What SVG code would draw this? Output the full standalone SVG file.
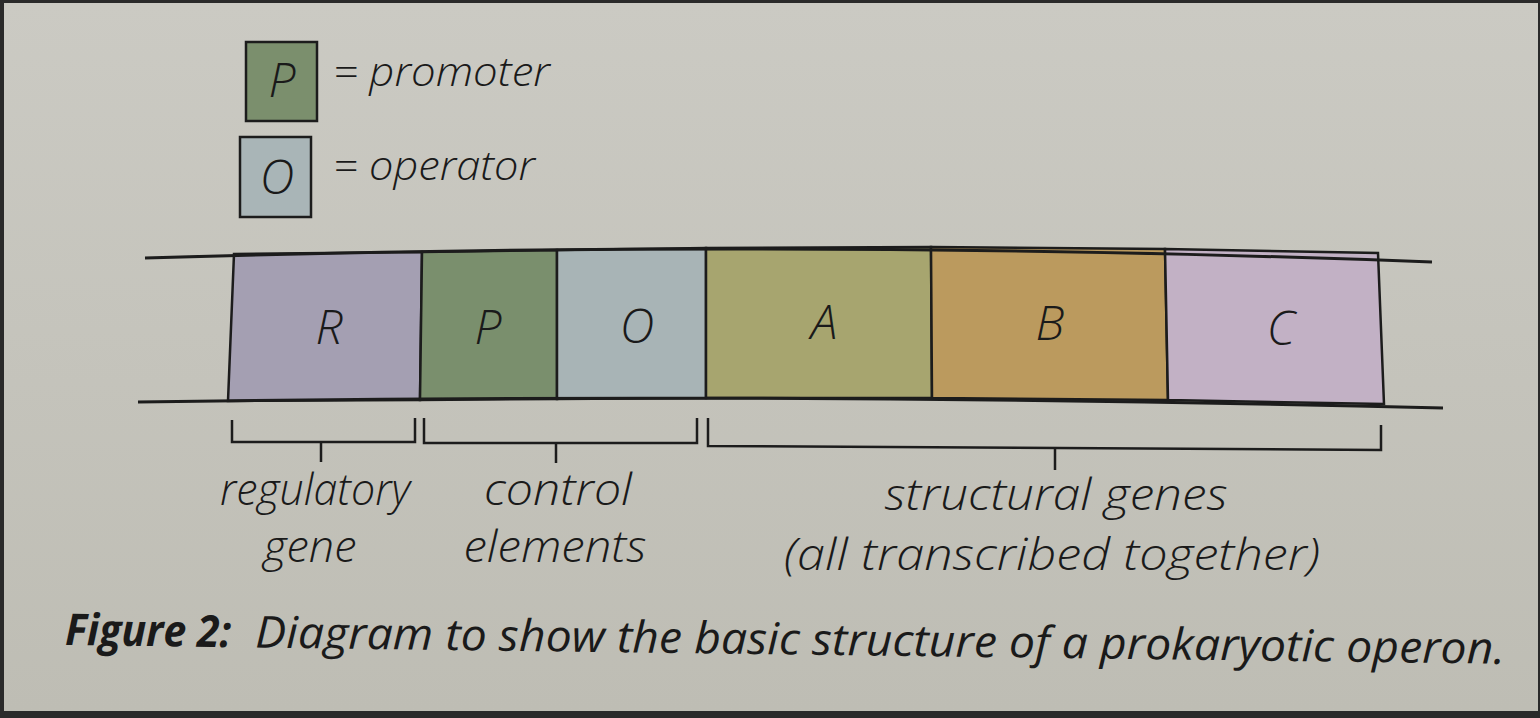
<svg xmlns="http://www.w3.org/2000/svg" width="1540" height="718" viewBox="0 0 1540 718">
<defs>
<linearGradient id="bg" x1="0" y1="0" x2="0" y2="1">
<stop offset="0" stop-color="#cbcac3"/>
<stop offset="1" stop-color="#bebdb4"/>
</linearGradient>
</defs>
<style>
.ln{fill:none;stroke:#1c1c1c;stroke-width:3}
.bx{stroke:#1c1c1c;stroke-width:2.5}
.t{font-family:"Open Sans","Noto Sans",sans-serif;font-style:italic;font-weight:300;fill:#1a1a1a}
.bold{font-weight:700}
.cap{font-weight:400}
.lbl{font-size:44px;text-anchor:middle}
.big{font-size:48px;text-anchor:middle}
.br{fill:none;stroke:#1c1c1c;stroke-width:2.5}
</style>
<rect x="0" y="0" width="1540" height="718" fill="#2a2a2a"/>
<rect x="4" y="3" width="1534" height="708" fill="url(#bg)"/>

<g id="legend-promoter">
<rect x="246" y="42" width="71" height="79" fill="#7b8f6d" class="bx"/>
<text x="282" y="97" class="t big">P</text>
<text x="333" y="86" class="t" font-size="40" textLength="217" lengthAdjust="spacingAndGlyphs">= promoter</text>
</g>
<g id="legend-operator">
<rect x="240" y="137" width="71" height="80" fill="#a9b5b7" class="bx"/>
<text x="277" y="194" class="t big">O</text>
<text x="333" y="180" class="t" font-size="40" textLength="202" lengthAdjust="spacingAndGlyphs">= operator</text>
</g>

<g id="box-R">
<polygon points="234,254 422,252 420,400 228,401" fill="#a49fb2" class="bx"/>
<text x="329" y="344" class="t big">R</text>
</g>
<g id="box-P">
<polygon points="422,252 557,250 557,399 420,400" fill="#7a8f6d" class="bx"/>
<text x="488" y="344" class="t big">P</text>
</g>
<g id="box-O">
<polygon points="557,250 706,248 706,398 557,399" fill="#a8b4b6" class="bx"/>
<text x="637" y="343" class="t big">O</text>
</g>
<g id="box-A">
<polygon points="706,248 931,247 932,398 706,398" fill="#a7a56f" class="bx"/>
<text x="824" y="339" class="t big">A</text>
</g>
<g id="box-B">
<polygon points="931,247 1165,249 1168,400 932,398" fill="#bb9a5e" class="bx"/>
<text x="1050" y="340" class="t big">B</text>
</g>
<g id="box-C">
<polygon points="1165,249 1378,253 1384,404 1168,400" fill="#c2b1c5" class="bx"/>
<text x="1281" y="345" class="t big">C</text>
</g>

<g id="connectors">
<path class="ln" d="M145,258 Q800,238 1432,262"/>
<path class="ln" d="M138,402 Q800,392 1443,408"/>
<path class="br" d="M232,420 V442 H415 V418 M321,442 V462"/>
<path class="br" d="M424,418 V443 H697 V418 M556,443 V463"/>
<path class="br" d="M708,418 V446 L1381,450 V425 M1055,448 V470"/>
</g>

<g id="label-regulatory">
<text x="315" y="505" class="t lbl" textLength="190" lengthAdjust="spacingAndGlyphs">regulatory</text>
<text x="310" y="562" class="t lbl" textLength="93" lengthAdjust="spacingAndGlyphs">gene</text>
</g>
<g id="label-control">
<text x="558" y="505" class="t lbl" textLength="148" lengthAdjust="spacingAndGlyphs">control</text>
<text x="555" y="562" class="t lbl" textLength="183" lengthAdjust="spacingAndGlyphs">elements</text>
</g>
<g id="label-structural">
<text x="1056" y="510" class="t lbl" textLength="343" lengthAdjust="spacingAndGlyphs">structural genes</text>
<text x="1052" y="570" class="t lbl" textLength="536" lengthAdjust="spacingAndGlyphs">(all transcribed together)</text>
</g>

<g id="caption" transform="rotate(0.75 65 645)">
<text x="65" y="645" class="t bold" font-size="44" textLength="166" lengthAdjust="spacingAndGlyphs">Figure 2:</text>
<text x="255" y="645" class="t cap" font-size="44" textLength="1250" lengthAdjust="spacingAndGlyphs">Diagram to show the basic structure of a prokaryotic operon.</text>
</g>
</svg>
